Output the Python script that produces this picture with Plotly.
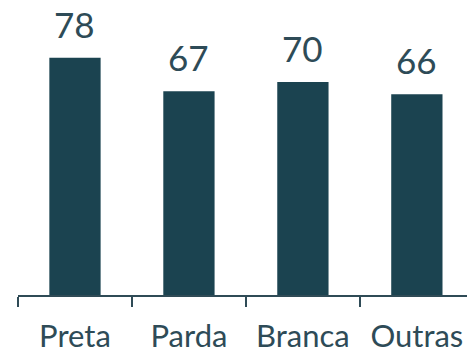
import plotly.graph_objects as go

categories = ["Preta", "Parda", "Branca", "Outras"]
values = [78, 67, 70, 66]

BAR_COLOR = "#1b4350"
TEXT_COLOR = "#2e4b57"

fig = go.Figure(
    go.Bar(
        x=categories,
        y=values,
        marker=dict(color=BAR_COLOR, line=dict(width=0)),
        width=0.45,
        hoverinfo="skip",
    )
)

# value labels above each bar
for cat, val in zip(categories, values):
    fig.add_annotation(
        x=cat, y=val, text=str(val), showarrow=False,
        xref="x", yref="y", yanchor="bottom", yshift=11,
        font=dict(family="Lato", size=35, color=TEXT_COLOR),
    )

fig.update_layout(
    width=467, height=349,
    margin=dict(l=18, r=0, t=0, b=54),
    paper_bgcolor="white", plot_bgcolor="white",
    showlegend=False,
    font=dict(family="Lato", color=TEXT_COLOR),
)
fig.update_xaxes(
    range=[-0.5, 3.44], automargin=False,
    showline=True, linecolor="#2f4b56", linewidth=2,
    ticks="outside", tickson="boundaries", ticklen=10, tickwidth=2, tickcolor="#2f4b56",
    ticklabelstandoff=13,
    tickfont=dict(family="Lato", size=31, color=TEXT_COLOR),
    showgrid=False, zeroline=False, fixedrange=True,
)
fig.update_yaxes(
    range=[0, 97], visible=False, showgrid=False, zeroline=False, fixedrange=True,
)

fig.write_html("out.html", config={"displayModeBar": False})
